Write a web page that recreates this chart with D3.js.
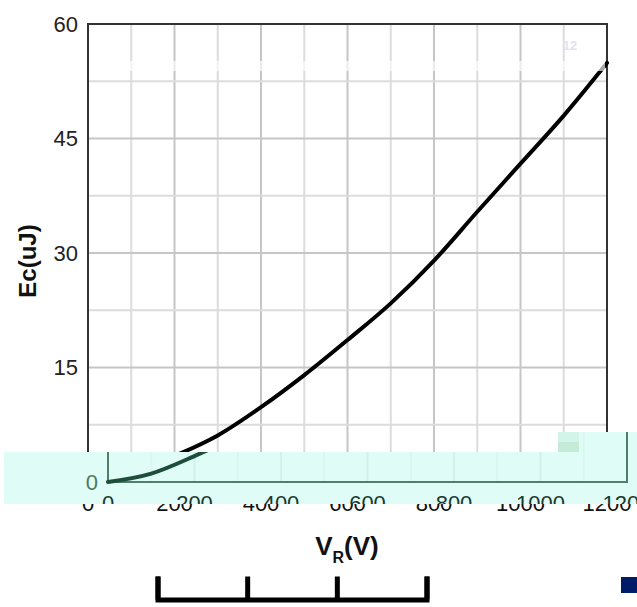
<!DOCTYPE html>
<html><head><meta charset="utf-8">
<script src="https://cdn.jsdelivr.net/npm/d3@7"></script>
<style>html,body{margin:0;padding:0;background:#fff;}svg{display:block;}</style>
</head><body>
<svg id="c" width="637" height="607"></svg>
<script>
// ---- data ----
const voltage = [0,100,200,300,400,500,600,700,800,900,1000,1100,1200];
const energy  = [0,1.1,3.4,6.1,9.8,14.0,18.6,23.4,29.0,35.4,41.7,48.0,54.9];
const xTicks = [0,200,400,600,800,1000,1200];
const yTicks = [0,15,30,45,60];
const xGrid = [100,200,300,400,500,600,700,800,900,1000,1100];
const yGrid = [7.5,15,22.5,30,37.5,45,52.5];
const bracketTicks = [0,1,2,3];
const yTitle = "Ec(uJ)";

const svg = d3.select("#c");
const FONT = "'Liberation Sans', Arial, sans-serif";
const L = 88, R = 607, T = 24, B = 482;
const x = d3.scaleLinear().domain([0,1200]).range([L,R]);
const y = d3.scaleLinear().domain([0,60]).range([B,T]);
const pts = voltage.map((v,i)=>[v,energy[i]]);
const line = d3.line().x(d=>x(d[0])).y(d=>y(d[1])).curve(d3.curveMonotoneX);

function drawChart(g, st){
  g.selectAll(".vg").data(xGrid).join("line")
    .attr("x1",d=>x(d)).attr("x2",d=>x(d)).attr("y1",T).attr("y2",B)
    .attr("stroke",d=>d%200===0?st.gridMajor:st.gridMinor).attr("stroke-width",2);
  g.selectAll(".hg").data(yGrid).join("line")
    .attr("y1",d=>y(d)).attr("y2",d=>y(d)).attr("x1",L).attr("x2",R)
    .attr("stroke",d=>d%15===0?st.gridMajor:st.gridMinor).attr("stroke-width",2);
  g.append("path").attr("d",`M${L},${B}V${T}H${R}V${B}H${L}`)
    .attr("fill","none").attr("stroke",st.frame).attr("stroke-width",2);
  g.append("path").datum(pts).attr("d",line).attr("fill","none")
    .attr("stroke",st.curve).attr("stroke-width",4).attr("stroke-linecap","round");
  g.selectAll(".yl").data(yTicks).join("text")
    .attr("x",L-10).attr("y",d=>y(d)).attr("dy","0.36em").attr("text-anchor","end")
    .attr("font-family",FONT).attr("font-size",22).attr("fill",st.ytext).text(d=>d);
  g.selectAll(".xl").data(xTicks).join("text")
    .attr("x",d=>x(d)).attr("y",511).attr("text-anchor","middle")
    .attr("font-family",FONT).attr("font-size",22).attr("fill",st.xtext).text(d=>d);
}

const main = svg.append("g");
drawChart(main,{gridMajor:"#c6c6c6",gridMinor:"#dcdcdc",frame:"#333",curve:"#000",ytext:"#222",xtext:"#111"});
svg.append("rect").attr("x",L+2).attr("y",61).attr("width",R-L-4).attr("height",10).attr("fill","#fff").attr("opacity",0.65);
svg.append("text").attr("x",570).attr("y",50).attr("text-anchor","middle")
  .attr("font-family",FONT).attr("font-weight","bold").attr("font-size",13).attr("fill","#e2e2f2").text("12");

svg.append("text").attr("transform","translate(36,261) rotate(-90)").attr("text-anchor","middle")
  .attr("font-family",FONT).attr("font-weight","bold").attr("font-size",24).attr("fill","#111").text(yTitle);
const xt = svg.append("text").attr("x",347).attr("y",555).attr("text-anchor","middle")
  .attr("font-family",FONT).attr("font-weight","bold").attr("font-size",26).attr("fill","#111");
xt.append("tspan").text("V");
xt.append("tspan").attr("font-size",16).attr("dy",8).text("R");
xt.append("tspan").attr("dy",-8).text("(V)");

const defs = svg.append("defs");
const cp = defs.append("clipPath").attr("id","band");
cp.append("rect").attr("x",4).attr("y",452).attr("width",633).attr("height",52);
cp.append("rect").attr("x",558).attr("y",432).attr("width",79).attr("height",20);
const band = svg.append("g").attr("clip-path","url(#band)");
band.append("rect").attr("x",0).attr("y",420).attr("width",637).attr("height",100).attr("fill","#e0fcf7");
band.append("rect").attr("x",558).attr("y",432).attr("width",21).attr("height",10).attr("fill","#d3f4e8");
band.append("rect").attr("x",558).attr("y",442).attr("width",21).attr("height",10).attr("fill","#c4ebd8");
const shifted = band.append("g").attr("transform","translate(20,0)");
drawChart(shifted,{gridMajor:"#d4f0e8",gridMinor:"#dbf6ef",frame:"#4f7f6a",curve:"#1f4d3b",ytext:"#4b7a66",xtext:"#1a3a2e"});

const bx = d3.scaleLinear().domain([0,3]).range([157.5,426.5]);
const bAxis = d3.axisBottom(bx).tickValues(bracketTicks).tickSize(-23).tickSizeOuter(-23).tickFormat("");
const bg = svg.append("g").attr("transform","translate(0,599.5)").call(bAxis);
bg.selectAll("path,line").attr("stroke","#000").attr("stroke-width",5);
bg.select(".domain").attr("fill","none");

svg.append("rect").attr("x",621).attr("y",577).attr("width",16).attr("height",16).attr("fill","#001c68");
</script>
</body></html>
